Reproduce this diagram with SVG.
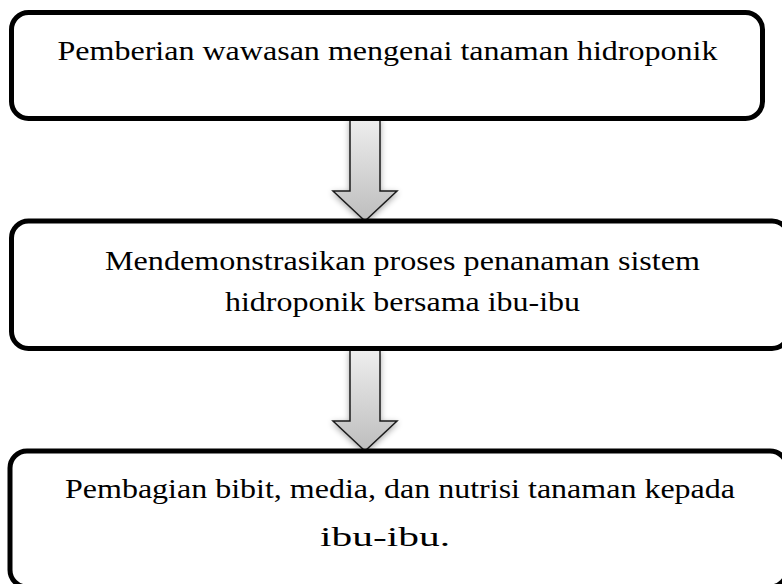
<svg xmlns="http://www.w3.org/2000/svg" width="782" height="584" viewBox="0 0 782 584">
  <style>
    .box { fill: #ffffff; stroke: #000000; stroke-width: 5; }
    .lbl { font-size: 27px; fill: #000000; text-anchor: middle; }
    .arrow { fill: url(#arrowGrad); stroke: #1a1a1a; stroke-width: 1.5; stroke-linejoin: miter; filter: url(#shadow); }
  </style>
  <defs>
    <linearGradient id="arrowGrad" x1="0" y1="0" x2="0" y2="1">
      <stop offset="0" stop-color="#eeeeee"/>
      <stop offset="1" stop-color="#bdbdbd"/>
    </linearGradient>
    <filter id="shadow" x="-50%" y="-20%" width="200%" height="140%">
      <feGaussianBlur in="SourceAlpha" stdDeviation="3"/>
      <feOffset dx="0" dy="2" result="b"/>
      <feComponentTransfer><feFuncA type="linear" slope="0.35"/></feComponentTransfer>
      <feMerge><feMergeNode/><feMergeNode in="SourceGraphic"/></feMerge>
    </filter>
  </defs>

  <g id="connectors">
    <polygon class="arrow" points="350,119 380,119 380,191 397,191 365,221 333,191 350,191"/>
    <polygon class="arrow" points="350,350 380,350 380,421 397,421 365,451 333,421 350,421"/>
  </g>

  <g id="node1">
    <rect class="box" x="11.5" y="12.5" width="751" height="106" rx="17" ry="17"/>
    <text class="lbl" font-family="Liberation Serif, Times New Roman, serif" x="387.5" y="60" textLength="660" lengthAdjust="spacingAndGlyphs">Pemberian wawasan mengenai tanaman hidroponik</text>
  </g>

  <g id="node2">
    <rect class="box" x="11.5" y="221" width="777.5" height="127.5" rx="17" ry="17"/>
    <text class="lbl" font-family="Liberation Serif, Times New Roman, serif" x="402.5" y="270" textLength="595" lengthAdjust="spacingAndGlyphs">Mendemonstrasikan proses penanaman sistem</text>
    <text class="lbl" font-family="Liberation Serif, Times New Roman, serif" x="402.5" y="311" textLength="355" lengthAdjust="spacingAndGlyphs">hidroponik bersama ibu-ibu</text>
  </g>

  <g id="node3">
    <rect class="box" x="10" y="451" width="777" height="136" rx="17" ry="17"/>
    <text class="lbl" font-family="Liberation Serif, Times New Roman, serif" x="400" y="498" textLength="670" lengthAdjust="spacingAndGlyphs">Pembagian bibit, media, dan nutrisi tanaman kepada</text>
    <text class="lbl" font-family="Liberation Serif, Times New Roman, serif" x="385" y="546" textLength="130" lengthAdjust="spacingAndGlyphs">ibu-ibu.</text>
  </g>
</svg>
